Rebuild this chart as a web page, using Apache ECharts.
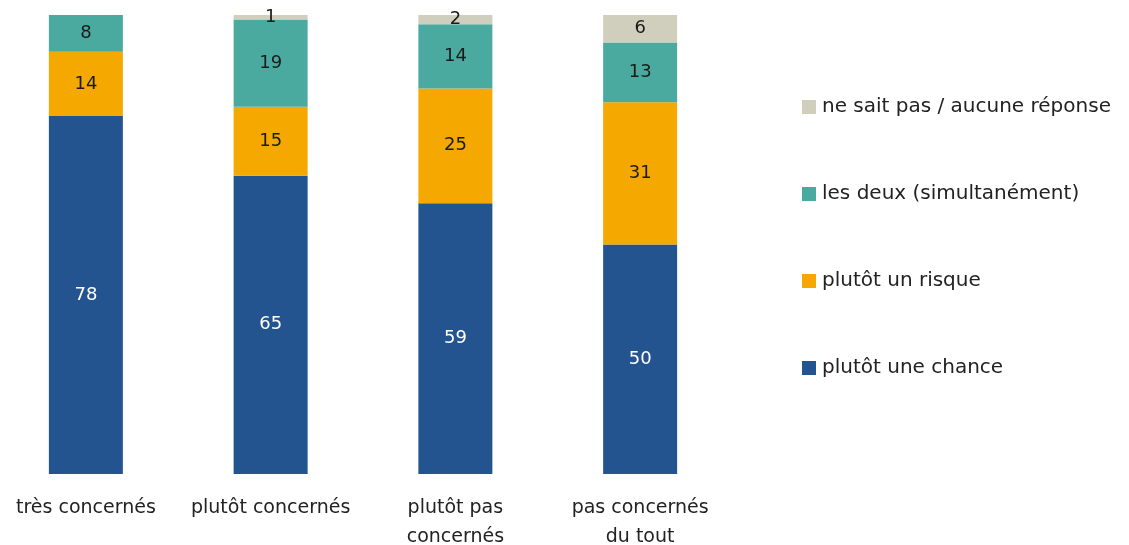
<!DOCTYPE html>
<html>
<head>
<meta charset="utf-8">
<script src="https://cdn.jsdelivr.net/npm/echarts@6/dist/echarts.min.js"></script>
<style>
  html, body { margin: 0; padding: 0; background: #fff; }
  #chart { width: 1129px; height: 545px; }
</style>
</head>
<body>
<div id="chart"></div>
<script>
// Groups along the x axis
const categories = ['très concernés', 'plutôt concernés', 'plutôt pas\nconcernés', 'pas concernés\ndu tout'];

// Shares (%) per answer, stacked from bottom to top
const chance = [78, 65, 59, 50];
const risque = [14, 15, 25, 31];
const lesDeux = [8, 19, 14, 13];
const nsp = [0, 1, 2, 6];

const seriesNames = ['plutôt une chance', 'plutôt un risque', 'les deux (simultanément)', 'ne sait pas / aucune réponse'];
const seriesData = [chance, risque, lesDeux, nsp];
const colors = ['#24548F', '#F5A800', '#4AAA9F', '#D0CEBD'];
const labelColors = ['#ffffff', '#1a1a1a', '#1a1a1a', '#1a1a1a'];

const FONT = '"DejaVu Sans", sans-serif';

const chart = echarts.init(document.getElementById('chart'), null, { renderer: 'canvas' });

chart.setOption({
  animation: false,
  color: colors,
  grid: { left: -6.5, width: 739, top: 15, bottom: 71, containLabel: false, outerBoundsMode: 'none' },
  legend: {
    orient: 'vertical',
    left: 802,
    top: 97,
    padding: 0,
    icon: 'rect',
    itemWidth: 14,
    itemHeight: 14,
    itemGap: 67,
    data: seriesNames.slice().reverse(),
    textStyle: { fontFamily: FONT, fontSize: 20, color: '#222', padding: [0, 0, 0, 1], lineHeight: 20 }
  },
  xAxis: {
    type: 'category',
    data: categories,
    axisLine: { show: false },
    axisTick: { show: false },
    axisLabel: { fontFamily: FONT, fontSize: 19, color: '#222', margin: 20, lineHeight: 29, interval: 0 }
  },
  yAxis: {
    type: 'value',
    min: 0,
    max: 100,
    show: false,
    splitLine: { show: false }
  },
  series: seriesNames.map((name, i) => ({
    name,
    type: 'bar',
    stack: 'total',
    barWidth: 74,
    data: seriesData[i].map(v => v === 0 ? null : v),
    label: {
      show: true,
      position: 'inside',
      fontFamily: FONT,
      fontSize: 18,
      color: labelColors[i]
    }
  }))
});
</script>
</body>
</html>
